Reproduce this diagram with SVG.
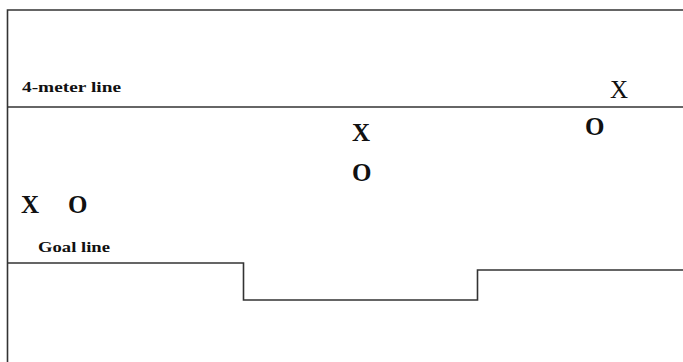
<svg xmlns="http://www.w3.org/2000/svg" width="683" height="362" viewBox="0 0 683 362">
<style>
.ln{fill:none;stroke:#333;stroke-width:1.6}
.lbl{font-family:"Liberation Serif","Times New Roman",serif;font-weight:bold;font-size:15px;fill:#111}
.pl{font-family:"Liberation Serif","Times New Roman",serif;font-size:25px;fill:#111}
.b{font-weight:bold}
</style>
<rect width="683" height="362" fill="#fff"/>
<g id="field">
<path class="ln" d="M683,10 H7.5 V362"/>
<path class="ln" d="M7.5,107 H683"/>
<path class="ln" d="M7.5,263 H243.5 V300 H477.5 V270 H683"/>
</g>
<g id="labels">
<text class="lbl" x="22" y="92" textLength="99" lengthAdjust="spacingAndGlyphs">4-meter line</text>
<text class="lbl" x="38" y="252" textLength="72" lengthAdjust="spacingAndGlyphs">Goal line</text>
</g>
<g id="players">
<text class="pl" x="610" y="98">X</text>
<text class="pl b" x="585" y="135">O</text>
<text class="pl b" x="352" y="141">X</text>
<text class="pl b" x="352" y="181">O</text>
<text class="pl b" x="21" y="213">X</text>
<text class="pl b" x="68" y="213">O</text>
</g>
</svg>
